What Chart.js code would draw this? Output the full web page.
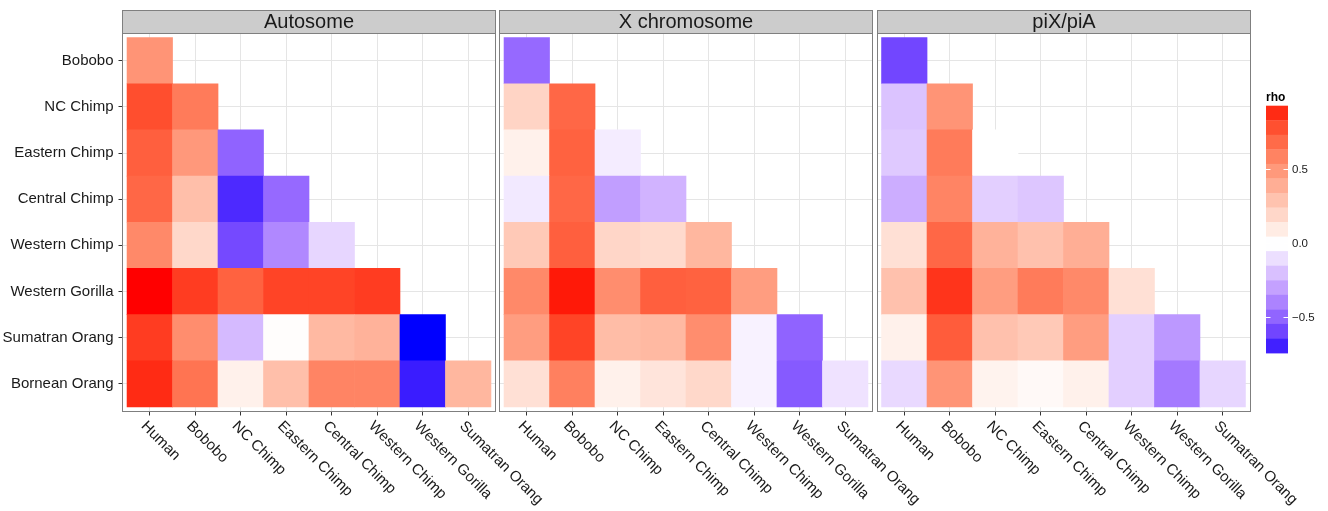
<!DOCTYPE html>
<html>
<head>
<meta charset="utf-8">
<script src="https://cdn.jsdelivr.net/npm/chart.js@4.4.1/dist/chart.umd.min.js"></script>
<style>
  html, body { margin: 0; padding: 0; background: #fff; }
  #wrap { position: relative; width: 1328px; height: 511px; overflow: hidden; }
  #wrap canvas { position: absolute; left: 0; top: 0; }
</style>
</head>
<body>
<div id="wrap">
  <canvas id="c1" width="1328" height="511"></canvas>
  <canvas id="c2" width="1328" height="511"></canvas>
  <canvas id="c3" width="1328" height="511"></canvas>
</div>
<script>
// columns (x) and rows (y, top to bottom)
const species = ['Human', 'Bobobo', 'NC Chimp', 'Eastern Chimp', 'Central Chimp', 'Western Chimp', 'Western Gorilla', 'Sumatran Orang'];
const rowLabels = ['Bobobo', 'NC Chimp', 'Eastern Chimp', 'Central Chimp', 'Western Chimp', 'Western Gorilla', 'Sumatran Orang', 'Bornean Orang'];
const facets = ['Autosome', 'X chromosome', 'piX/piA'];

// rho per row, columns Human.. (lower triangle)
const autosome = [
  [0.51],
  [0.79, 0.62],
  [0.73, 0.49, -0.50],
  [0.70, 0.31, -0.67, -0.48],
  [0.56, 0.19, -0.58, -0.38, -0.13],
  [0.93, 0.84, 0.72, 0.82, 0.82, 0.84],
  [0.84, 0.54, -0.22, 0.01, 0.34, 0.37, -0.74],
  [0.88, 0.65, 0.07, 0.31, 0.58, 0.58, -0.70, 0.35]
];
const xChromosome = [
  [-0.48],
  [0.21, 0.70],
  [0.07, 0.72, -0.06],
  [-0.07, 0.70, -0.31, -0.24],
  [0.26, 0.73, 0.20, 0.18, 0.35],
  [0.56, 0.91, 0.54, 0.73, 0.72, 0.47],
  [0.47, 0.82, 0.32, 0.34, 0.54, -0.04, -0.50],
  [0.15, 0.60, 0.07, 0.13, 0.19, -0.04, -0.53, -0.09]
];
const piRatio = [
  [-0.59],
  [-0.19, 0.51],
  [-0.17, 0.62, 0.00],
  [-0.26, 0.58, -0.15, -0.18],
  [0.15, 0.70, 0.37, 0.30, 0.39],
  [0.30, 0.86, 0.47, 0.62, 0.56, 0.15],
  [0.07, 0.74, 0.30, 0.26, 0.47, -0.15, -0.33],
  [-0.12, 0.51, 0.06, 0.03, 0.07, -0.15, -0.43, -0.13]
];
const legendTicks = [0.5, 0.0, -0.5];
const legendTickLabels = ['0.5', '0.0', '\u22120.5'];

const FONT = '"Liberation Sans", Helvetica, Arial, sans-serif';
Chart.defaults.font.family = FONT;

// colour scale: blue - white - red, interpolated in Lab
const allVals = autosome.concat(xChromosome, piRatio).flat();
const rhoMin = Math.min(...allVals);
const rhoMax = Math.max(...allVals);

function toLin(c) { c /= 255; return c <= 0.04045 ? c / 12.92 : Math.pow((c + 0.055) / 1.055, 2.4); }
function toSrgb(c) {
  c = c <= 0.0031308 ? 12.92 * c : 1.055 * Math.pow(c, 1 / 2.4) - 0.055;
  return Math.round(Math.max(0, Math.min(1, c)) * 255);
}
const WX = 0.95047, WZ = 1.08883;
function rgbToLab(rgb) {
  const r = toLin(rgb[0]), g = toLin(rgb[1]), b = toLin(rgb[2]);
  const x = (0.4124 * r + 0.3576 * g + 0.1805 * b) / WX;
  const y = 0.2126 * r + 0.7152 * g + 0.0722 * b;
  const z = (0.0193 * r + 0.1192 * g + 0.9505 * b) / WZ;
  const f = t => t > 0.008856 ? Math.cbrt(t) : 7.787 * t + 16 / 116;
  return [116 * f(y) - 16, 500 * (f(x) - f(y)), 200 * (f(y) - f(z))];
}
function labToRgb(lab) {
  const fy = (lab[0] + 16) / 116, fx = fy + lab[1] / 500, fz = fy - lab[2] / 200;
  const inv = t => t * t * t > 0.008856 ? t * t * t : (t - 16 / 116) / 7.787;
  const x = inv(fx) * WX, y = inv(fy), z = inv(fz) * WZ;
  const r = 3.2406 * x - 1.5372 * y - 0.4986 * z;
  const g = -0.9689 * x + 1.8758 * y + 0.0415 * z;
  const b = 0.0557 * x - 0.2040 * y + 1.0570 * z;
  return 'rgb(' + toSrgb(r) + ',' + toSrgb(g) + ',' + toSrgb(b) + ')';
}
const labWhite = rgbToLab([255, 255, 255]);
const labRed = rgbToLab([255, 0, 0]);
const labBlue = rgbToLab([0, 0, 255]);
function rhoColor(v) {
  const end = v >= 0 ? labRed : labBlue;
  const t = v >= 0 ? v / rhoMax : v / rhoMin;
  return labToRgb(labWhite.map((w, i) => w + (end[i] - w) * t));
}

// panels: [left, right] of the plot area in px
const panelBox = [[122.5, 495.5], [499.5, 872.5], [877, 1250]];
const PANEL_TOP = 33, PANEL_BOTTOM = 411.5, STRIP_TOP = 10, TICK = 4;

function decor(title, withLegend) {
  return {
    id: 'decor',
    afterDraw(chart) {
      const ctx = chart.ctx, a = chart.chartArea;
      const l = Math.floor(a.left) + 0.5, r = Math.floor(a.right) + 0.5;
      const t = Math.floor(a.top) + 0.5, b = Math.floor(a.bottom) + 0.5;
      ctx.save();
      // strip
      ctx.fillStyle = '#cccccc';
      ctx.fillRect(l, STRIP_TOP + 0.5, r - l, t - STRIP_TOP - 0.5);
      ctx.strokeStyle = '#7f7f7f';
      ctx.lineWidth = 1;
      ctx.strokeRect(l, STRIP_TOP + 0.5, r - l, t - STRIP_TOP - 0.5);
      ctx.fillStyle = '#1a1a1a';
      ctx.font = '20px ' + FONT;
      ctx.textAlign = 'center';
      ctx.textBaseline = 'middle';
      ctx.fillText(title, (l + r) / 2, (STRIP_TOP + t) / 2 + 1);
      // panel border
      ctx.strokeRect(l, t, r - l, b - t);
      // rotated x labels
      const xs = chart.scales.x;
      ctx.font = '15px ' + FONT;
      ctx.fillStyle = '#1a1a1a';
      ctx.textAlign = 'left';
      ctx.textBaseline = 'top';
      species.forEach((name, i) => {
        ctx.save();
        ctx.translate(xs.getPixelForValue(i + 1) - 1, a.bottom + TICK + 3);
        ctx.rotate(Math.PI / 4);
        ctx.fillText(name, 0, 0);
        ctx.restore();
      });
      if (withLegend) drawLegend(ctx);
      ctx.restore();
    }
  };
}

function drawLegend(ctx) {
  const x0 = 1266, w = 22, top = 105.7, h = 247.3, nbin = 17;
  const yOf = v => top + (rhoMax - v) / (rhoMax - rhoMin) * h;
  ctx.fillStyle = '#000';
  ctx.font = 'bold 12px ' + FONT;
  ctx.textAlign = 'left';
  ctx.textBaseline = 'alphabetic';
  ctx.fillText('rho', x0, 101);
  for (let i = 0; i < nbin; i++) {
    const v = rhoMax - (i + 0.5) * (rhoMax - rhoMin) / nbin;
    const y1 = top + i * h / nbin, y2 = top + (i + 1) * h / nbin;
    ctx.fillStyle = rhoColor(v);
    ctx.fillRect(x0, y1, w, y2 - y1 + 0.4);
  }
  ctx.strokeStyle = '#fff';
  ctx.lineWidth = 1;
  ctx.font = '11.5px ' + FONT;
  ctx.textBaseline = 'middle';
  legendTicks.forEach((v, i) => {
    const y = Math.round(yOf(v)) + 0.5;
    ctx.beginPath();
    ctx.moveTo(x0, y); ctx.lineTo(x0 + 4.5, y);
    ctx.moveTo(x0 + w - 4.5, y); ctx.lineTo(x0 + w, y);
    ctx.stroke();
    ctx.fillStyle = '#1a1a1a';
    ctx.fillText(legendTickLabels[i], x0 + w + 4, y);
  });
}

function makePanel(id, idx, values) {
  const tiles = [], colors = [];
  values.forEach((row, r) => {
    row.forEach((v, c) => {
      const yc = rowLabels.length - r;
      tiles.push({ x: c + 1, y: [yc - 0.5, yc + 0.5] });
      colors.push(rhoColor(v));
    });
  });
  const first = idx === 0;
  const box = panelBox[idx];
  return new Chart(document.getElementById(id), {
    type: 'bar',
    data: {
      datasets: [{
        data: tiles,
        backgroundColor: colors,
        borderWidth: 0,
        barPercentage: 1,
        categoryPercentage: 1
      }]
    },
    options: {
      responsive: false,
      animation: false,
      events: [],
      layout: {
        padding: {
          left: first ? 0 : box[0],
          right: 1328 - box[1],
          top: PANEL_TOP,
          bottom: 511 - PANEL_BOTTOM - TICK
        }
      },
      plugins: { legend: { display: false }, tooltip: { enabled: false } },
      scales: {
        x: {
          type: 'linear',
          min: 0.4,
          max: 8.6,
          offset: false,
          afterBuildTicks: s => { s.ticks = species.map((_, i) => ({ value: i + 1 })); },
          afterFit: s => { s.height = TICK; },
          ticks: { display: false },
          grid: { offset: false, color: '#e5e5e5', tickColor: '#333', tickLength: TICK, lineWidth: 1 },
          border: { display: false }
        },
        y: {
          type: 'linear',
          min: 0.4,
          max: 8.6,
          offset: false,
          afterBuildTicks: s => { s.ticks = rowLabels.map((_, i) => ({ value: i + 1 })); },
          afterFit: s => { s.width = first ? box[0] : 0; },
          ticks: {
            display: first,
            autoSkip: false,
            padding: 5,
            color: '#1a1a1a',
            font: { size: 15 },
            callback: v => rowLabels[rowLabels.length - v]
          },
          grid: { offset: false, color: '#e5e5e5', tickColor: '#333', tickLength: TICK, drawTicks: first, lineWidth: 1 },
          border: { display: false }
        }
      }
    },
    plugins: [decor(facets[idx], idx === 2)]
  });
}

makePanel('c1', 0, autosome);
makePanel('c2', 1, xChromosome);
makePanel('c3', 2, piRatio);
</script>
</body>
</html>
